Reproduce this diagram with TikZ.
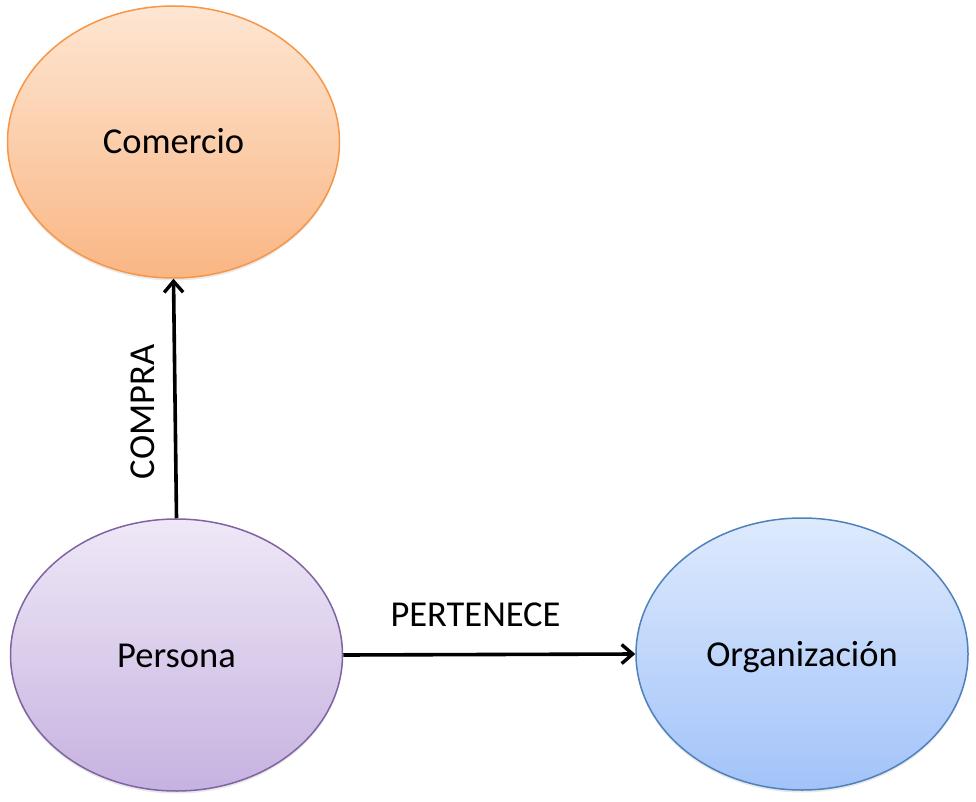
\documentclass[tikz,border=0pt]{standalone}
\usepackage{fontspec}
\setmainfont{Carlito}
\usetikzlibrary{arrows.meta,shadows,shapes.geometric}
\definecolor{orTop}{HTML}{FDE6D3}
\definecolor{orBot}{HTML}{FAB684}
\definecolor{orLine}{HTML}{F79646}
\definecolor{puTop}{HTML}{EFE8F7}
\definecolor{puBot}{HTML}{C6B2E0}
\definecolor{puLine}{HTML}{8064A2}
\definecolor{blTop}{HTML}{DEEAFD}
\definecolor{blBot}{HTML}{A2C3F9}
\definecolor{blLine}{HTML}{4F81BD}
\tikzset{
  ent/.style={ellipse, minimum width=332pt, minimum height=272pt, line width=1.5pt,
    inner sep=0pt, text height=24pt, text depth=0pt,
    font=\fontsize{36.5}{44}\selectfont,
    drop shadow={opacity=0.18, shadow xshift=0pt, shadow yshift=-2.5pt}},
  rel/.style={draw=black, line width=3.6pt, -{Straight Barb[length=11pt,width=19pt,line width=3.4pt]}},
  lbl/.style={font=\fontsize{36.5}{44}\selectfont, inner sep=0pt}
}
\begin{document}
\begin{tikzpicture}[x=1pt,y=-1pt]
\useasboundingbox (0,0) rectangle (976,802);
\node[ent, draw=orLine, top color=orTop, bottom color=orBot] (com) at (173.5,142) {Comercio};
\node[ent, draw=puLine, top color=puTop, bottom color=puBot] (per) at (176.5,655) {Persona};
\node[ent, draw=blLine, top color=blTop, bottom color=blBot] (org) at (802,654) {Organización};
\draw[rel] (per.north) -- (com.south);
\draw[rel] (per.east) -- (org.west);
\node[lbl, rotate=90, text height=24pt, text depth=0pt] (compra) at (142.5,412) {COMPRA};
\node[lbl, anchor=base] (pert) at (475.5,626) {PERTENECE};
\end{tikzpicture}
\end{document}
